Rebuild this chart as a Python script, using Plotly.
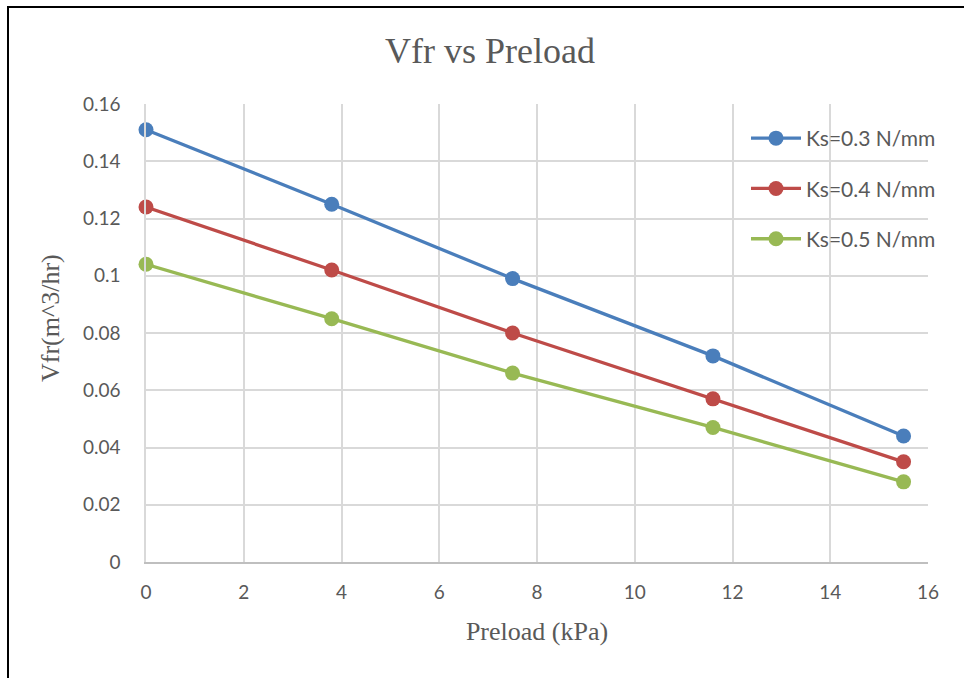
import plotly.graph_objects as go

# Data
preload_kpa = [0, 3.8, 7.5, 11.6, 15.5]
vfr_ks03 = [0.151, 0.125, 0.099, 0.072, 0.044]
vfr_ks04 = [0.124, 0.102, 0.080, 0.057, 0.035]
vfr_ks05 = [0.104, 0.085, 0.066, 0.047, 0.028]
series_names = ["Ks=0.3 N/mm", "Ks=0.4 N/mm", "Ks=0.5 N/mm"]
series_colors = ["#4A7EBB", "#BE4B48", "#98B954"]
x_ticks = [0, 2, 4, 6, 8, 10, 12, 14, 16]
y_ticks = [0, 0.02, 0.04, 0.06, 0.08, 0.1, 0.12, 0.14, 0.16]

W, H = 964, 678
ML, MR, MT, MB = 146, 36, 104, 116
plot_w = W - ML - MR
plot_h = H - MT - MB

fig = go.Figure()
for i, (name, ys, col) in enumerate(zip(series_names, [vfr_ks03, vfr_ks04, vfr_ks05], series_colors)):
    fig.add_trace(go.Scatter(
        x=preload_kpa, y=ys, name=name, mode="lines+markers",
        legendgroup=f"g{i}",
        line=dict(color=col, width=3.3),
        marker=dict(color=col, size=15),
        cliponaxis=False,
    ))

tick_font = dict(family="Lato, Carlito, 'Open Sans', sans-serif", size=19, color="#595959")
serif = "Liberation Serif, 'Times New Roman', serif"


def px_to_paper_x(px):
    return (px - ML) / plot_w


def px_to_paper_y(py):
    return (H - MB - py) / plot_h


fig.update_layout(
    width=W, height=H,
    margin=dict(l=ML, r=MR, t=MT, b=MB),
    paper_bgcolor="white", plot_bgcolor="white",
    title=dict(text="Vfr vs Preload", x=490 / W, xanchor="center",
               y=1 - 50 / H, yanchor="middle",
               font=dict(family=serif, size=36, color="#595959")),
    xaxis=dict(range=[0, 16], tickvals=x_ticks, ticktext=[str(v) for v in x_ticks],
               showgrid=True, gridcolor="#D9D9D9", gridwidth=1.5,
               zeroline=False, showline=True, linecolor="#BFBFBF", linewidth=1.5,
               ticks="", tickfont=tick_font, ticklabelstandoff=12,
               title=dict(text="Preload (kPa)", font=dict(family=serif, size=26, color="#595959"),
                          standoff=20)),
    yaxis=dict(range=[0, 0.16], tickvals=y_ticks,
               ticktext=["0", "0.02", "0.04", "0.06", "0.08", "0.1", "0.12", "0.14", "0.16"],
               showgrid=True, gridcolor="#D9D9D9", gridwidth=1.5,
               zeroline=False, showline=True, linecolor="#D9D9D9", linewidth=1.5,
               ticks="", tickfont=tick_font, ticklabelstandoff=20),
    legend=dict(x=(746 - ML) / plot_w, y=1 - (118 - MT) / plot_h, xanchor="left", yanchor="top",
                bgcolor="rgba(0,0,0,0)", font=dict(family="Lato, Carlito, sans-serif", size=21, color="#595959"),
                tracegroupgap=20, itemwidth=50, traceorder="grouped"),
    showlegend=True,
)

# Y-axis title placed beside the tick labels
fig.add_annotation(text="Vfr(m^3/hr)", xref="paper", yref="paper",
                   x=px_to_paper_x(50), y=px_to_paper_y(318),
                   xanchor="center", yanchor="middle", textangle=-90, showarrow=False,
                   font=dict(family=serif, size=26, color="#595959"))

# Chart frame (top and left edges)
fig.add_shape(type="line", xref="paper", yref="paper",
              x0=px_to_paper_x(7), x1=px_to_paper_x(W + 2),
              y0=px_to_paper_y(7), y1=px_to_paper_y(7),
              line=dict(color="black", width=2))
fig.add_shape(type="line", xref="paper", yref="paper",
              x0=px_to_paper_x(8), x1=px_to_paper_x(8),
              y0=px_to_paper_y(7), y1=px_to_paper_y(H + 2),
              line=dict(color="black", width=2))

fig.write_html("out.html")
